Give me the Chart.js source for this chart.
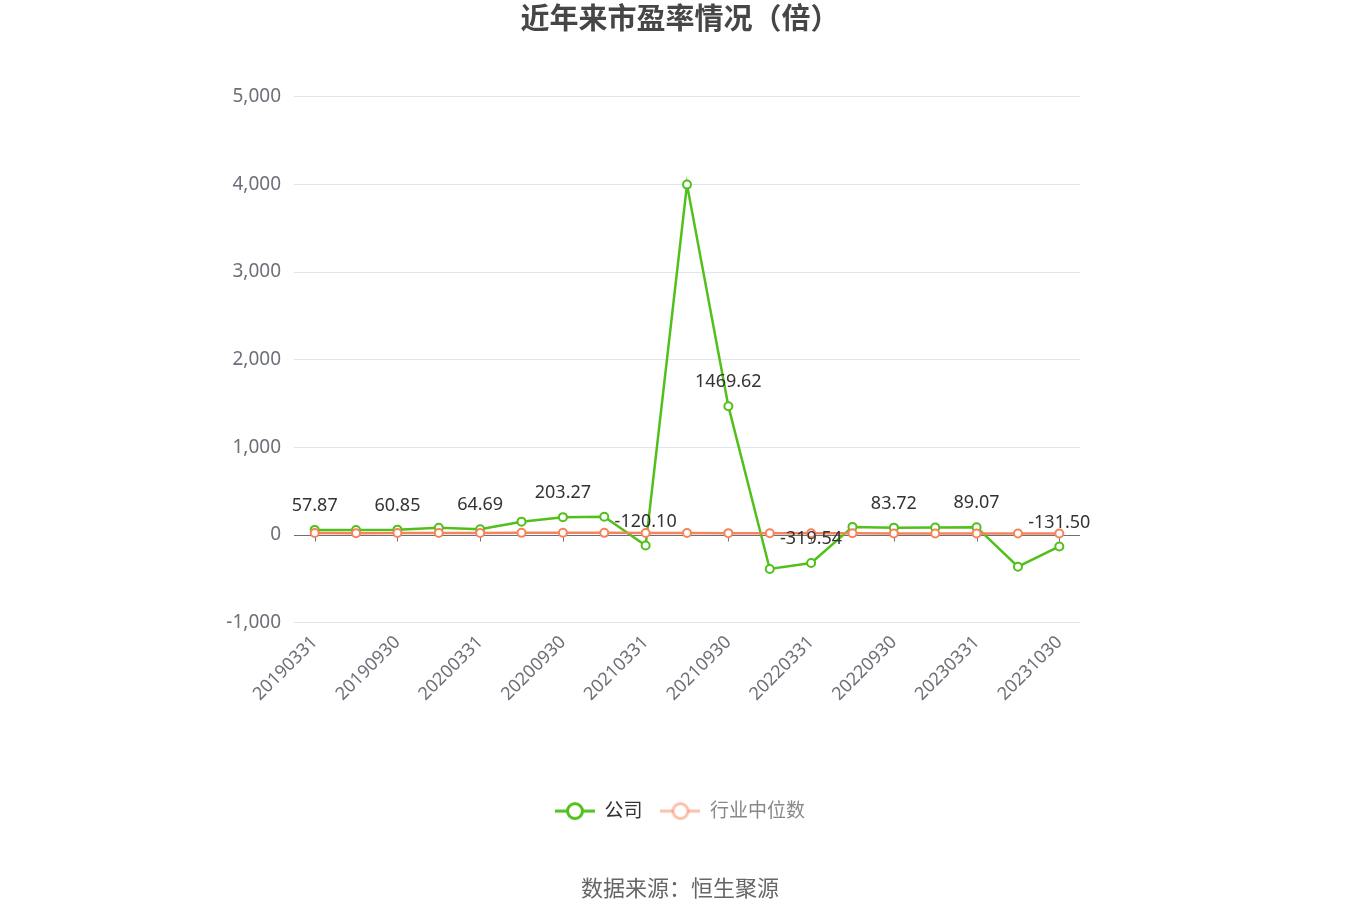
<!DOCTYPE html>
<html>
<head>
<meta charset="utf-8">
<script src="https://cdn.jsdelivr.net/npm/chart.js@4/dist/chart.umd.min.js"></script>
<style>
  html, body { margin: 0; padding: 0; background: #fff; }
  #wrap { width: 1360px; height: 920px; }
</style>
</head>
<body>
<div id="wrap"><canvas id="pe-chart" width="1360" height="920"></canvas></div>
<script>
// report dates
const periods = ['20190331', '20190630', '20190930', '20191231', '20200331', '20200630',
  '20200930', '20201231', '20210331', '20210630', '20210930', '20211231',
  '20220331', '20220630', '20220930', '20221231', '20230331', '20230630', '20231030'];

// company PE (labelled values, the rest estimated)
const companyPE = [57.87, 56, 60.85, 82, 64.69, 152, 203.27, 208, -120.10, 3998,
  1469.62, -388, -319.54, 92, 83.72, 86, 89.07, -362, -131.50];

// industry median PE (estimated)
const industryPE = [22, 21, 22, 23, 22, 24, 25, 24, 23, 22, 21, 20, 19, 20, 18, 17, 17, 16, 16];

const yTicks = [-1000, 0, 1000, 2000, 3000, 4000, 5000];

const green = 'rgb(82,192,26)';
const orange = 'rgb(245,132,90)';
const font = "'Noto Sans', 'Noto Sans CJK SC', sans-serif";

function legendIcon(color, alpha) {
  const c = document.createElement('canvas');
  c.width = 40; c.height = 22;
  const g = c.getContext('2d');
  g.globalAlpha = alpha;
  g.strokeStyle = color;
  g.lineWidth = 3;
  g.beginPath(); g.moveTo(0, 11); g.lineTo(40, 11); g.stroke();
  g.globalAlpha = 1;
  g.fillStyle = '#fff';
  g.beginPath(); g.arc(20, 11, 7.5, 0, Math.PI * 2); g.fill();
  g.globalAlpha = alpha;
  g.beginPath(); g.arc(20, 11, 7.5, 0, Math.PI * 2); g.stroke();
  return c;
}

// zero axis line with ticks under the labelled categories
const zeroAxis = {
  id: 'zeroAxis',
  beforeDatasetsDraw(chart) {
    const x = chart.scales.x, y = chart.scales.y, ctx = chart.ctx;
    const y0 = Math.round(y.getPixelForValue(0)) + 0.5;
    ctx.save();
    ctx.strokeStyle = '#6e7079';
    ctx.lineWidth = 1;
    ctx.beginPath();
    ctx.moveTo(chart.chartArea.left, y0);
    ctx.lineTo(chart.chartArea.right, y0);
    periods.forEach((p, i) => {
      if (i % 2) return;
      const px = Math.round(x.getPixelForValue(i)) + 0.5;
      ctx.moveTo(px, y0);
      ctx.lineTo(px, y0 + 6);
    });
    ctx.stroke();
    ctx.restore();
  }
};

// value labels over every other company point
const valueLabels = {
  id: 'valueLabels',
  afterDatasetsDraw(chart) {
    const meta = chart.getDatasetMeta(0), ctx = chart.ctx;
    ctx.save();
    ctx.font = '18px ' + font;
    ctx.fillStyle = '#333';
    ctx.textAlign = 'center';
    ctx.textBaseline = 'middle';
    meta.data.forEach((pt, i) => {
      if (i % 2) return;
      ctx.fillText(companyPE[i].toFixed(2), pt.x, pt.y - 24);
    });
    ctx.restore();
  }
};

new Chart(document.getElementById('pe-chart'), {
  type: 'line',
  data: {
    labels: periods,
    datasets: [{
      label: '公司',
      data: companyPE,
      borderColor: green,
      backgroundColor: '#fff',
      borderWidth: 2.5,
      pointRadius: 4,
      pointBorderWidth: 2,
      pointBackgroundColor: '#fff',
      tension: 0,
      order: 1
    }, {
      label: '行业中位数',
      data: industryPE,
      borderColor: orange,
      backgroundColor: '#fff',
      borderWidth: 2.5,
      pointRadius: 4,
      pointBorderWidth: 2,
      pointBackgroundColor: '#fff',
      tension: 0,
      order: 0
    }]
  },
  options: {
    responsive: false,
    animation: false,
    layout: { padding: 0 },
    plugins: {
      title: {
        display: true,
        text: '近年来市盈率情况（倍）',
        color: '#464646',
        font: { family: font, size: 29, weight: 'bold' },
        padding: { top: 3, bottom: 59 }
      },
      subtitle: {
        display: true,
        position: 'bottom',
        text: '数据来源：恒生聚源',
        color: '#666',
        font: { family: font, size: 22 },
        padding: { top: 46, bottom: 17 }
      },
      legend: {
        position: 'bottom',
        labels: {
          usePointStyle: true,
          pointStyleWidth: 40,
          boxHeight: 20,
          padding: 18,
          font: { family: font, size: 19 },
          generateLabels() {
            return [
              { text: '公司', pointStyle: legendIcon(green, 1), fontColor: '#333',
                strokeStyle: green, fillStyle: '#fff', lineWidth: 0, datasetIndex: 0, hidden: false },
              { text: '行业中位数', pointStyle: legendIcon(orange, 0.5), fontColor: '#888',
                strokeStyle: orange, fillStyle: '#fff', lineWidth: 0, datasetIndex: 1, hidden: false }
            ];
          }
        }
      },
      tooltip: { enabled: false }
    },
    scales: {
      x: {
        offset: true,
        grid: { display: false },
        border: { display: false },
        ticks: {
          autoSkip: false,
          minRotation: 45,
          maxRotation: 45,
          padding: 1,
          color: '#6e7079',
          font: { family: font, size: 18 },
          callback: (v, i) => (i % 2 ? '' : periods[i])
        },
        afterFit(scale) { scale.height = 161; }
      },
      y: {
        min: -1000,
        max: 5000,
        afterBuildTicks(scale) { scale.ticks = yTicks.map(v => ({ value: v })); },
        grid: {
          drawTicks: false,
          color: ctx => (ctx.tick && ctx.tick.value === 0 ? 'rgba(0,0,0,0)' : '#e0e6f1')
        },
        border: { display: false },
        ticks: {
          padding: 13,
          color: '#6e7079',
          font: { family: font, size: 19 },
          callback: v => v.toLocaleString('en-US')
        },
        afterFit(scale) { scale.width = 294; }
      },
      // empty right-hand spacer so the plot ends where the reference does
      spacer: {
        type: 'linear',
        position: 'right',
        display: true,
        grid: { display: false },
        border: { display: false },
        ticks: { display: false },
        afterFit(scale) { scale.width = 280; }
      }
    }
  },
  plugins: [zeroAxis, valueLabels]
});
</script>
</body>
</html>
